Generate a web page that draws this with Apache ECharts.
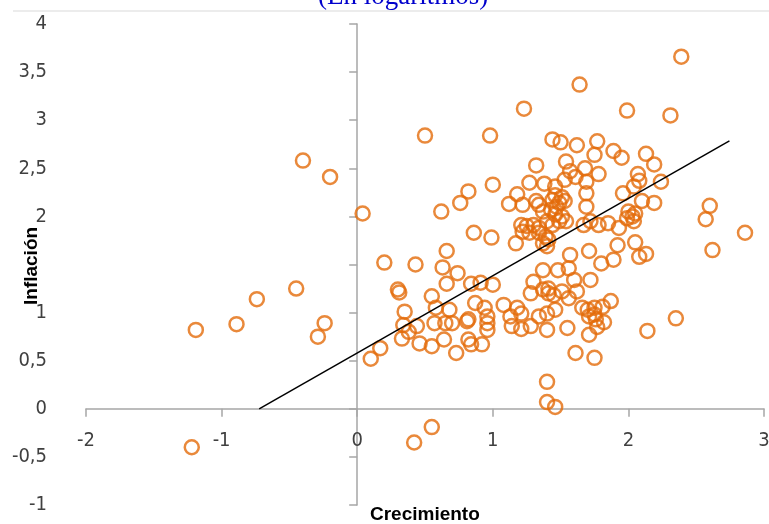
<!DOCTYPE html>
<html><head><meta charset="utf-8">
<script src="https://cdn.jsdelivr.net/npm/echarts@6/dist/echarts.min.js"></script>
<style>html,body{margin:0;padding:0;background:#fff}#c{width:769px;height:524px}</style>
</head><body><div id="c"></div>
<script>
var growth = [-1.19,-0.89,-0.74,-0.45,-0.24,-0.29,-0.40,-0.20,0.04,-1.22,0.42,0.55,0.10,0.17,
0.50,0.98,1.23,1.64,1.99,2.31,2.39,1.44,1.50,1.62,1.77,1.75,1.89,1.95,2.13,2.19,1.32,1.54,
2.07,2.08,2.04,2.24,1.78,1.57,1.61,1.68,1.69,1.53,1.46,1.00,0.82,0.76,0.62,1.27,1.38,1.18,
1.12,1.22,1.32,1.34,1.44,1.49,1.51,1.46,1.47,1.53,1.96,2.10,2.19,1.69,1.69,2.00,2.03,1.99,
2.05,2.04,2.60,2.57,2.86,2.62,1.93,1.85,1.78,1.72,1.67,1.37,1.43,1.46,1.51,1.40,1.44,1.49,
1.54,1.21,1.25,1.30,1.34,1.22,1.27,1.34,1.39,1.41,0.86,0.99,1.17,1.37,1.40,1.92,2.05,2.08,
2.13,1.71,1.80,1.89,1.57,1.72,1.60,1.37,1.48,1.56,0.20,0.43,0.66,0.63,0.74,0.66,0.84,0.91,
1.00,0.30,0.31,0.55,1.30,1.28,1.37,1.41,1.41,1.45,1.51,1.56,1.62,1.66,1.70,1.75,1.81,1.87,
1.75,1.71,1.76,1.82,1.77,1.71,0.87,0.94,0.96,0.96,0.96,0.82,0.82,0.92,1.08,1.18,1.21,1.13,
1.14,1.21,1.28,1.34,1.40,1.46,1.40,1.55,1.61,1.75,1.40,1.40,1.46,2.35,2.14,0.35,0.58,0.68,
0.34,0.38,0.33,0.44,0.46,0.55,0.57,0.65,0.64,0.70,0.73,0.81,0.84];
var inflation = [0.82,0.88,1.14,1.25,0.89,0.75,2.58,2.41,2.03,-0.40,-0.35,-0.19,0.52,0.63,
2.84,2.84,3.12,3.37,3.10,3.05,3.66,2.80,2.77,2.74,2.78,2.64,2.68,2.61,2.65,2.54,2.53,2.57,
2.44,2.37,2.31,2.36,2.44,2.47,2.41,2.50,2.36,2.38,2.31,2.33,2.26,2.14,2.05,2.35,2.34,2.23,
2.13,2.12,2.16,2.12,2.17,2.14,2.20,2.22,2.10,2.16,2.24,2.16,2.14,2.24,2.10,2.05,2.00,1.98,
2.03,1.95,2.11,1.97,1.83,1.65,1.88,1.93,1.91,1.95,1.91,2.05,2.07,2.02,2.00,1.95,1.91,1.95,
1.95,1.91,1.90,1.91,1.88,1.84,1.83,1.83,1.79,1.76,1.83,1.78,1.72,1.72,1.69,1.70,1.73,1.58,
1.61,1.64,1.51,1.55,1.60,1.34,1.34,1.44,1.44,1.46,1.52,1.50,1.64,1.47,1.41,1.30,1.30,1.31,
1.29,1.24,1.21,1.17,1.32,1.20,1.24,1.20,1.25,1.18,1.22,1.15,1.22,1.05,1.03,1.05,1.06,1.12,
0.98,0.96,0.93,0.90,0.85,0.77,1.10,1.05,0.96,0.89,0.82,0.93,0.72,0.67,1.08,1.05,0.99,0.96,
0.86,0.83,0.86,0.96,0.99,1.03,0.82,0.84,0.58,0.53,0.28,0.07,0.02,0.94,0.81,1.01,1.05,1.03,
0.87,0.80,0.73,0.86,0.68,0.65,0.89,0.89,0.72,0.89,0.58,0.91,0.67];
var trendX = [-0.723, 2.745];
var trendY = [0, 2.786];
var xTicks = {min: -2, max: 3, step: 1};
var yTicks = {min: -1, max: 4, step: 0.5};

var pts = growth.map(function(g, i){ return [g, inflation[i]]; });
var trend = trendX.map(function(x, i){ return [x, trendY[i]]; });
var axisGrey = '#a6a6a6';
var numFont = "'Liberation Sans Narrow','DejaVu Sans Condensed',sans-serif";
var gridTop = 24, gridBottom = 19, H = 524;
var unitPx = (H - gridTop - gridBottom) / (yTicks.max - yTicks.min);
var zeroOffset = -(0 - yTicks.min) * unitPx;

var chart = echarts.init(document.getElementById('c'), null, {renderer: 'canvas'});
chart.setOption({
  animation: false,
  backgroundColor: '#fff',
  grid: {left: 86, right: 5, top: gridTop, bottom: gridBottom, containLabel: false, outerBoundsMode: 'none'},
  xAxis: [{
    type: 'value', min: xTicks.min, max: xTicks.max, interval: xTicks.step,
    axisLine: {onZero: true, lineStyle: {color: axisGrey, width: 1.5}},
    axisTick: {show: true, length: 8, lineStyle: {color: axisGrey, width: 1.5}},
    axisLabel: {show: false},
    splitLine: {show: false}
  }, {
    type: 'value', min: xTicks.min, max: xTicks.max, interval: xTicks.step, position: 'bottom',
    offset: zeroOffset,
    axisLine: {show: false, onZero: false},
    axisTick: {show: false},
    axisLabel: {fontSize: 20, color: '#404040', fontFamily: numFont, margin: 22},
    splitLine: {show: false}
  }],
  yAxis: [{
    type: 'value', min: yTicks.min, max: yTicks.max, interval: yTicks.step,
    axisLine: {show: true, onZero: true, lineStyle: {color: axisGrey, width: 1.5}},
    axisTick: {show: true, length: 8, lineStyle: {color: axisGrey, width: 1.5}},
    axisLabel: {show: false},
    splitLine: {show: false}
  }, {
    type: 'value', min: yTicks.min, max: yTicks.max, interval: yTicks.step, position: 'left',
    axisLine: {show: false, onZero: false},
    axisTick: {show: false},
    axisLabel: {fontSize: 20, color: '#404040', fontFamily: numFont, margin: 39,
      formatter: function(v){ return String(v).replace('.', ','); }},
    splitLine: {show: false}
  }],
  series: [{
    type: 'line', data: trend, symbol: 'none', silent: true, z: 3,
    lineStyle: {color: '#000', width: 1.5}
  }, {
    type: 'scatter', data: pts, symbol: 'circle', symbolSize: 14, z: 2,
    itemStyle: {color: 'rgba(0,0,0,0)', borderColor: '#E46C0A', borderWidth: 2.5}
  }],
  graphic: [
    {type: 'line', shape: {x1: 13, y1: 11, x2: 769, y2: 11}, style: {stroke: '#d9d9d9', lineWidth: 1}},
    {type: 'text', left: 318, top: -17, style: {text: '(En logaritmos)', font: '27px "Liberation Serif", serif', fill: '#0000cc'}},
    {type: 'text', left: 370, top: 505, style: {text: 'Crecimiento', font: 'bold 19px "Liberation Sans", sans-serif', fill: '#000'}},
    {type: 'rect', z: 99, shape: {x: 16, y: 226, width: 34, height: 78}, style: {fill: '#fff'}},
    {type: 'text', x: 22, y: 305, rotation: Math.PI/2, z: 100, style: {text: 'Inflación', font: 'bold 19px "Liberation Sans", sans-serif', fill: '#000', textVerticalAlign: 'top'}}
  ]
});
</script></body></html>
